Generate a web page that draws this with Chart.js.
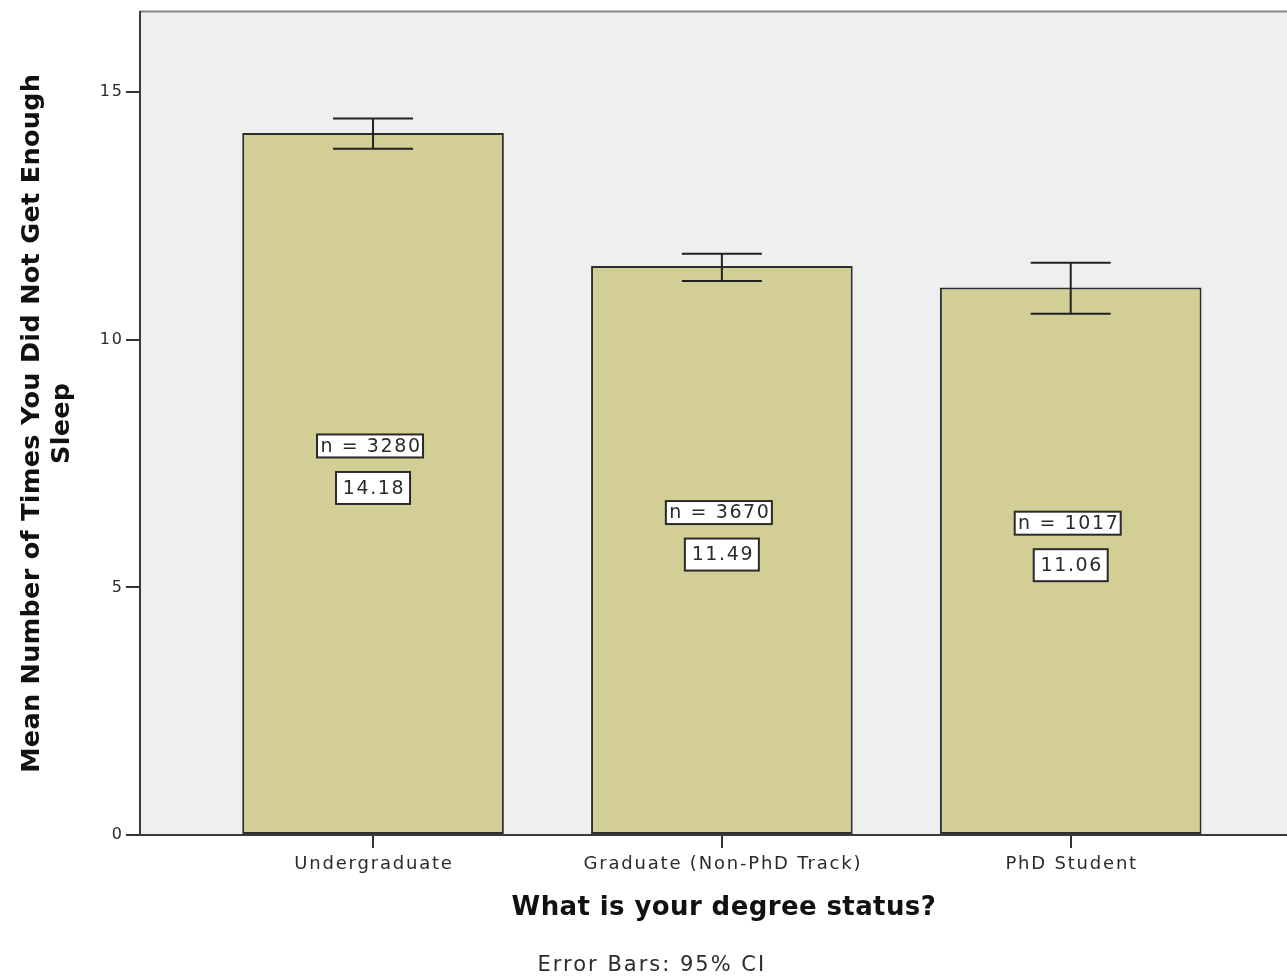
<!DOCTYPE html>
<html>
<head>
<meta charset="utf-8">
<script src="https://cdn.jsdelivr.net/npm/chart.js@4/dist/chart.umd.min.js"></script>
<style>
  html, body { margin: 0; padding: 0; background: #fff; }
</style>
</head>
<body>
<canvas id="myChart" width="1287" height="980"></canvas>
<script>
// values
const categories = ['Undergraduate', 'Graduate (Non-PhD Track)', 'PhD Student'];
const means = [14.18, 11.49, 11.06];
const ciLow = [13.86, 11.19, 10.53];
const ciHigh = [14.47, 11.74, 11.56];
const counts = [3280, 3670, 1017];
const yTicks = [0, 5, 10, 15];

const yTitle = ['Mean Number of Times You Did Not Get Enough', 'Sleep'];
const xTitle = 'What is your degree status?';
const footnote = 'Error Bars: 95% CI';

const FONT = '"DejaVu Sans", sans-serif';

function textBox(ctx, text, cx, cy, w, h) {
    ctx.fillStyle = '#ffffff';
    ctx.fillRect(cx - w / 2, cy - h / 2, w, h);
    ctx.strokeStyle = '#2a2a2a';
    ctx.lineWidth = 2;
    ctx.strokeRect(cx - w / 2, cy - h / 2, w, h);
    ctx.fillStyle = '#2b2b2b';
    ctx.fillText(text, cx + 1, cy + 1);
}

const spss = {
    id: 'spss',
    beforeDraw(chart) {
        const { ctx, chartArea: a } = chart;
        ctx.save();
        ctx.fillStyle = '#efefef';
        ctx.fillRect(a.left, a.top, a.right - a.left, a.bottom - a.top);
        ctx.strokeStyle = '#858585';
        ctx.lineWidth = 2;
        ctx.beginPath();
        ctx.moveTo(a.left, a.top);
        ctx.lineTo(a.right, a.top);
        ctx.stroke();
        ctx.restore();
        ctx.letterSpacing = '2px';
    },
    afterDatasetsDraw(chart) {
        const { ctx } = chart;
        const x = chart.scales.x, y = chart.scales.y;
        ctx.save();
        // error bars
        ctx.strokeStyle = '#222';
        ctx.lineWidth = 2;
        categories.forEach((c, i) => {
            const px = x.getPixelForValue(i);
            const lo = y.getPixelForValue(ciLow[i]);
            const hi = y.getPixelForValue(ciHigh[i]);
            ctx.beginPath();
            ctx.moveTo(px, lo); ctx.lineTo(px, hi);
            ctx.moveTo(px - 40, lo); ctx.lineTo(px + 40, lo);
            ctx.moveTo(px - 40, hi); ctx.lineTo(px + 40, hi);
            ctx.stroke();
        });
        // n and mean labels
        ctx.textAlign = 'center';
        ctx.textBaseline = 'middle';
        ctx.font = '19px ' + FONT;
        ctx.letterSpacing = '1.6px';
        categories.forEach((c, i) => {
            const px = x.getPixelForValue(i);
            const mid = y.getPixelForValue(means[i] / 2);
            textBox(ctx, 'n = ' + counts[i], px - 3, mid - 38, 106, 23);
            textBox(ctx, means[i].toFixed(2), px, mid + 4, 74, 32);
        });
        ctx.restore();
    },
    afterDraw(chart) {
        const { ctx } = chart;
        const x = chart.scales.x, y = chart.scales.y;
        const a = chart.chartArea;
        ctx.save();
        ctx.fillStyle = '#2b2b2b';
        ctx.textAlign = 'center';
        ctx.textBaseline = 'middle';
        // category labels
        ctx.font = '18px ' + FONT;
        ctx.letterSpacing = '1.8px';
        categories.forEach((c, i) => {
            ctx.fillText(c, x.getPixelForValue(i) + 1, 864);
        });
        // x title
        const xc = (x.getPixelForValue(0) + x.getPixelForValue(categories.length - 1)) / 2;
        ctx.fillStyle = '#111';
        ctx.font = 'bold 26px ' + FONT;
        ctx.letterSpacing = '0.4px';
        ctx.fillText(xTitle, xc + 2, 908);
        // footnote
        ctx.fillStyle = '#2b2b2b';
        ctx.font = '21px ' + FONT;
        ctx.letterSpacing = '2px';
        ctx.fillText(footnote, xc - 70, 966);
        // y title
        ctx.fillStyle = '#111';
        ctx.font = 'bold 25.5px ' + FONT;
        ctx.letterSpacing = '0.3px';
        const yc = (a.top + a.bottom) / 2;
        ctx.translate(32, yc);
        ctx.rotate(-Math.PI / 2);
        ctx.fillText(yTitle[0], 0, 0);
        ctx.fillText(yTitle[1], 0, 30);
        ctx.restore();
        ctx.letterSpacing = '0px';
    }
};

new Chart('myChart', {
    type: 'bar',
    data: {
        datasets: [{
            data: categories.map((c, i) => ({ x: i, y: means[i] })),
            backgroundColor: '#d3cd96',
            borderColor: '#2e2e2e',
            borderWidth: 2,
            borderSkipped: false,
            barPercentage: 0.75,
            categoryPercentage: 1.0
        }]
    },
    options: {
        responsive: false,
        animation: false,
        layout: { padding: { top: 10, right: 0, left: 0, bottom: 0 } },
        plugins: {
            legend: { display: false },
            tooltip: { enabled: false }
        },
        scales: {
            x: {
                type: 'linear',
                offset: false,
                min: -0.668,
                max: 2.62,
                afterBuildTicks: s => { s.ticks = categories.map((c, i) => ({ value: i })); },
                afterFit: s => { s.height = 145; },
                ticks: { callback: () => '', font: { size: 16 } },
                grid: { offset: false, drawOnChartArea: false, drawTicks: true, tickLength: 13, color: '#333', lineWidth: 2 },
                border: { display: true, color: '#3a3a3a', width: 2 }
            },
            y: {
                min: 0,
                max: 16.63,
                afterBuildTicks: s => { s.ticks = yTicks.map(v => ({ value: v })); },
                afterFit: s => { s.width = 140; },
                ticks: { color: '#2b2b2b', padding: 2, font: { family: FONT, size: 16 } },
                grid: { drawOnChartArea: false, drawTicks: true, tickLength: 14, color: '#333', lineWidth: 2 },
                border: { display: true, color: '#3a3a3a', width: 2 }
            }
        }
    },
    plugins: [spss]
});
</script>
</body>
</html>
